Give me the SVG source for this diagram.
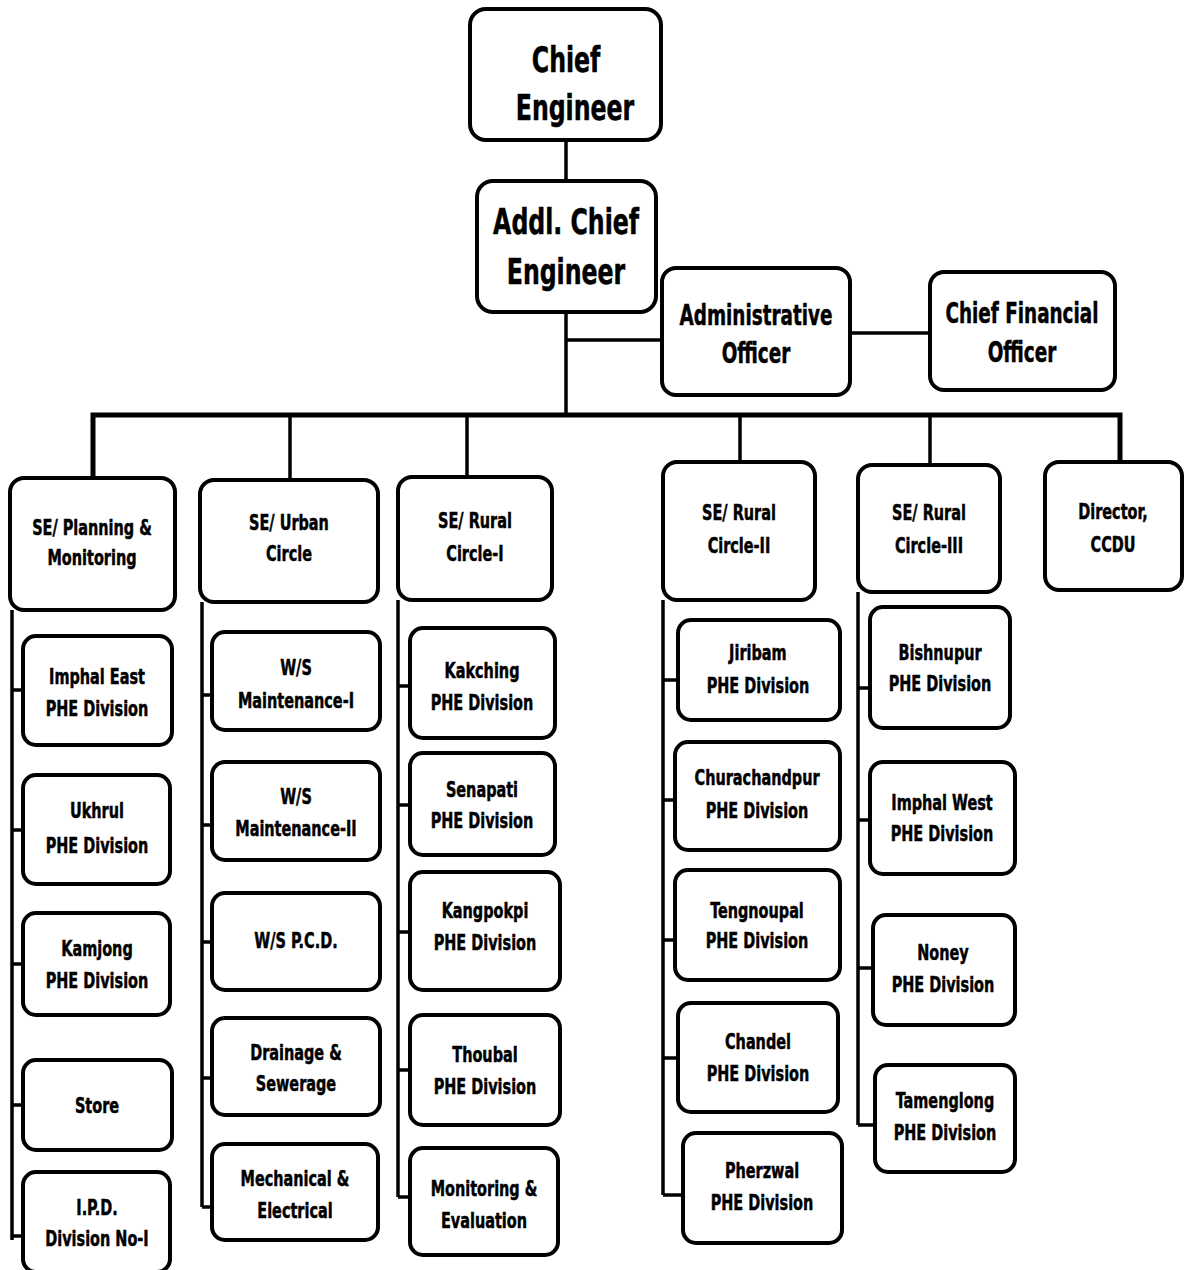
<svg xmlns="http://www.w3.org/2000/svg" width="1184" height="1270" viewBox="0 0 1184 1270">
<style>
.b{fill:#fff;stroke:#000;stroke-width:4}
.c{fill:none;stroke:#000;stroke-width:3.5}
.bus{fill:none;stroke:#000;stroke-width:5}
.t{font-family:"DejaVu Sans Condensed","DejaVu Sans",sans-serif;font-weight:bold;text-anchor:middle;fill:#000;stroke:#000;stroke-width:0.5;font-size:22px;transform-box:fill-box;transform-origin:center;transform:scaleX(0.73)}
.t2{font-size:28px}
.t3{font-size:36px}
</style>
<rect width="1184" height="1270" fill="#fff"/>
<g id="connectors">
<path class="c" d="M566 140V180M566 312V415M566 340H662M850 333H930"/>
<path class="bus" d="M93 478V415H1120V462"/>
<path class="c" d="M290 415V480M467 415V477M740 415V462M930 415V465"/>
<path class="c" d="M12 610V1240M12 690H23M12 830H23M12 964H23M12 1105H23M12 1236H23"/>
<path class="c" d="M202 602V1207M202 695H212M202 825H212M202 942H212M202 1078H212M202 1207H212"/>
<path class="c" d="M398 600V1197M398 686H410M398 805H410M398 932H410M398 1070H410M398 1197H410"/>
<path class="c" d="M663 600V1195M663 680H678M663 800H675M663 940H675M663 1058H678M663 1195H683"/>
<path class="c" d="M858 592V1125M858 688H870M858 820H870M858 968H873M858 1125H875"/>
</g>
<g id="chief-engineer"><rect class="b" x="470" y="9" width="191" height="131" rx="16"/><text class="t t3" x="566" y="72">Chief</text><text class="t t3" x="575" y="120">Engineer</text></g>
<g id="addl-chief-engineer"><rect class="b" x="477" y="181" width="179" height="131" rx="16"/><text class="t t3" x="566" y="234">Addl. Chief</text><text class="t t3" x="566" y="284">Engineer</text></g>
<g id="administrative-officer"><rect class="b" x="662" y="268" width="188" height="127" rx="14"/><text class="t t2" x="756" y="325">Administrative</text><text class="t t2" x="756" y="363">Officer</text></g>
<g id="chief-financial-officer"><rect class="b" x="930" y="272" width="185" height="118" rx="14"/><text class="t t2" x="1022" y="323">Chief Financial</text><text class="t t2" x="1022" y="362">Officer</text></g>

<g id="se-planning"><rect class="b" x="10" y="478" width="165" height="132" rx="14"/><text class="t" x="92" y="535">SE/ Planning &amp;</text><text class="t" x="92" y="565">Monitoring</text></g>
<g id="se-urban"><rect class="b" x="200" y="480" width="178" height="122" rx="14"/><text class="t" x="289" y="530">SE/ Urban</text><text class="t" x="289" y="561">Circle</text></g>
<g id="se-rural-1"><rect class="b" x="398" y="477" width="154" height="123" rx="14"/><text class="t" x="475" y="528">SE/ Rural</text><text class="t" x="475" y="561">Circle-I</text></g>
<g id="se-rural-2"><rect class="b" x="663" y="462" width="152" height="138" rx="14"/><text class="t" x="739" y="520">SE/ Rural</text><text class="t" x="739" y="553">Circle-II</text></g>
<g id="se-rural-3"><rect class="b" x="858" y="465" width="142" height="127" rx="14"/><text class="t" x="929" y="520">SE/ Rural</text><text class="t" x="929" y="553">Circle-III</text></g>
<g id="director-ccdu"><rect class="b" x="1045" y="462" width="137" height="128" rx="14"/><text class="t" x="1113" y="519">Director,</text><text class="t" x="1113" y="552">CCDU</text></g>

<g id="imphal-east"><rect class="b" x="23" y="636" width="149" height="109" rx="13"/><text class="t" x="97" y="684">Imphal East</text><text class="t" x="97" y="716">PHE Division</text></g>
<g id="ukhrul"><rect class="b" x="23" y="775" width="147" height="109" rx="13"/><text class="t" x="97" y="818">Ukhrul</text><text class="t" x="97" y="853">PHE Division</text></g>
<g id="kamjong"><rect class="b" x="23" y="913" width="147" height="102" rx="13"/><text class="t" x="97" y="956">Kamjong</text><text class="t" x="97" y="988">PHE Division</text></g>
<g id="store"><rect class="b" x="23" y="1060" width="149" height="90" rx="13"/><text class="t" x="97" y="1113">Store</text></g>
<g id="ipd-division"><rect class="b" x="23" y="1172" width="147" height="100" rx="13"/><text class="t" x="97" y="1215">I.P.D.</text><text class="t" x="97" y="1246">Division No-I</text></g>

<g id="ws-maintenance-1"><rect class="b" x="212" y="632" width="168" height="98" rx="13"/><text class="t" x="296" y="675">W/S</text><text class="t" x="296" y="708">Maintenance-I</text></g>
<g id="ws-maintenance-2"><rect class="b" x="212" y="762" width="168" height="98" rx="13"/><text class="t" x="296" y="804">W/S</text><text class="t" x="296" y="836">Maintenance-II</text></g>
<g id="ws-pcd"><rect class="b" x="212" y="893" width="168" height="97" rx="13"/><text class="t" x="296" y="948">W/S P.C.D.</text></g>
<g id="drainage-sewerage"><rect class="b" x="212" y="1018" width="168" height="97" rx="13"/><text class="t" x="296" y="1060">Drainage &amp;</text><text class="t" x="296" y="1091">Sewerage</text></g>
<g id="mechanical-electrical"><rect class="b" x="212" y="1144" width="166" height="96" rx="13"/><text class="t" x="295" y="1186">Mechanical &amp;</text><text class="t" x="295" y="1218">Electrical</text></g>

<g id="kakching"><rect class="b" x="410" y="628" width="145" height="110" rx="13"/><text class="t" x="482" y="678">Kakching</text><text class="t" x="482" y="710">PHE Division</text></g>
<g id="senapati"><rect class="b" x="410" y="753" width="145" height="102" rx="13"/><text class="t" x="482" y="797">Senapati</text><text class="t" x="482" y="828">PHE Division</text></g>
<g id="kangpokpi"><rect class="b" x="410" y="872" width="150" height="118" rx="13"/><text class="t" x="485" y="918">Kangpokpi</text><text class="t" x="485" y="950">PHE Division</text></g>
<g id="thoubal"><rect class="b" x="410" y="1015" width="150" height="110" rx="13"/><text class="t" x="485" y="1062">Thoubal</text><text class="t" x="485" y="1094">PHE Division</text></g>
<g id="monitoring-evaluation"><rect class="b" x="410" y="1148" width="148" height="107" rx="13"/><text class="t" x="484" y="1196">Monitoring &amp;</text><text class="t" x="484" y="1228">Evaluation</text></g>

<g id="jiribam"><rect class="b" x="678" y="620" width="162" height="100" rx="13"/><text class="t" x="758" y="660">Jiribam</text><text class="t" x="758" y="693">PHE Division</text></g>
<g id="churachandpur"><rect class="b" x="675" y="742" width="165" height="108" rx="13"/><text class="t" x="757" y="785">Churachandpur</text><text class="t" x="757" y="818">PHE Division</text></g>
<g id="tengnoupal"><rect class="b" x="675" y="870" width="165" height="110" rx="13"/><text class="t" x="757" y="918">Tengnoupal</text><text class="t" x="757" y="948">PHE Division</text></g>
<g id="chandel"><rect class="b" x="678" y="1003" width="160" height="109" rx="13"/><text class="t" x="758" y="1049">Chandel</text><text class="t" x="758" y="1081">PHE Division</text></g>
<g id="pherzwal"><rect class="b" x="683" y="1133" width="159" height="110" rx="13"/><text class="t" x="762" y="1178">Pherzwal</text><text class="t" x="762" y="1210">PHE Division</text></g>

<g id="bishnupur"><rect class="b" x="870" y="607" width="140" height="121" rx="13"/><text class="t" x="940" y="660">Bishnupur</text><text class="t" x="940" y="691">PHE Division</text></g>
<g id="imphal-west"><rect class="b" x="870" y="762" width="145" height="112" rx="13"/><text class="t" x="942" y="810">Imphal West</text><text class="t" x="942" y="841">PHE Division</text></g>
<g id="noney"><rect class="b" x="873" y="915" width="142" height="110" rx="13"/><text class="t" x="943" y="960">Noney</text><text class="t" x="943" y="992">PHE Division</text></g>
<g id="tamenglong"><rect class="b" x="875" y="1065" width="140" height="107" rx="13"/><text class="t" x="945" y="1108">Tamenglong</text><text class="t" x="945" y="1140">PHE Division</text></g>
</svg>
